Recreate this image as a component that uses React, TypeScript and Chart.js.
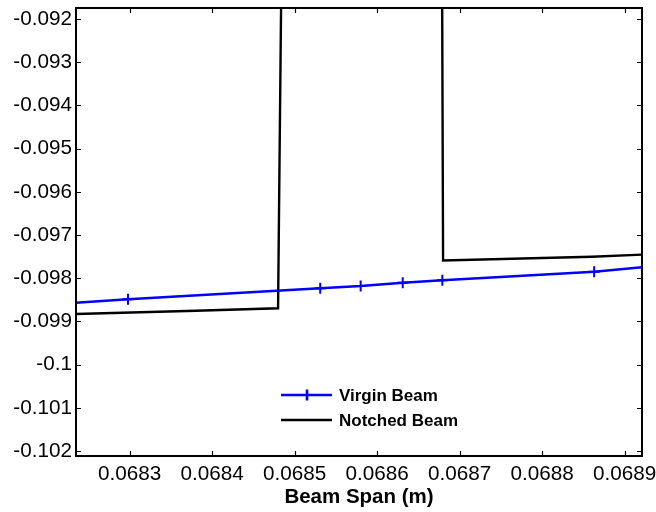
import React, { useEffect, useRef } from "react";
import { Chart, registerables } from "chart.js";

Chart.register(...registerables);

// Virgin beam (blue, "+" markers)
const virginX = [0.068235, 0.068298, 0.068531, 0.06858, 0.068631, 0.068679, 0.068863, 0.068921];
const virginY = [-0.098567, -0.098488, -0.098234, -0.098181, -0.098104, -0.098049, -0.09785, -0.097748];
const virginMarker = [false, true, true, true, true, true, true, false];

// Notched beam (black)
const notchedX = [0.068235, 0.06838, 0.0684799, 0.0684842, 0.0686786, 0.0686799, 0.06886, 0.068921];
const notchedY = [-0.098829, -0.098752, -0.098697, -0.0905, -0.0905, -0.09759, -0.097505, -0.097454];

const xMin = 0.068235;
const xMax = 0.068921;
const yMin = -0.102116;
const yMax = -0.091745;

const seriesNames = ["Virgin Beam", "Notched Beam"];
const xTitle = "Beam Span (m)";

const FONT = "'Liberation Sans', Arial, Helvetica, sans-serif";

const fmt = (v: number) => String(parseFloat(Number(v).toFixed(6)));

const framePlugin = {
  id: "frameTicks",
  afterDraw(chart: any) {
    const { ctx, chartArea } = chart;
    const { left, right, top, bottom } = chartArea;
    const xs = chart.scales.x;
    const ys = chart.scales.y;
    ctx.save();
    ctx.strokeStyle = "#000";
    ctx.lineWidth = 1.2;
    const tl = 5;
    ctx.beginPath();
    xs.ticks.forEach((t: any) => {
      const px = Math.round(xs.getPixelForValue(t.value)) + 0.5;
      ctx.moveTo(px, bottom);
      ctx.lineTo(px, bottom - tl);
      ctx.moveTo(px, top);
      ctx.lineTo(px, top + tl);
    });
    ys.ticks.forEach((t: any) => {
      const py = Math.round(ys.getPixelForValue(t.value)) + 0.5;
      ctx.moveTo(left, py);
      ctx.lineTo(left + tl, py);
      ctx.moveTo(right, py);
      ctx.lineTo(right - tl, py);
    });
    ctx.stroke();
    ctx.lineWidth = 2;
    ctx.strokeRect(left, top, right - left, bottom - top);

    // legend
    const lx0 = 281;
    const lx1 = 332;
    const rows = [
      { y: 395, color: "#0000ff", w: 2.6, marker: true, text: seriesNames[0] },
      { y: 420, color: "#000000", w: 2.4, marker: false, text: seriesNames[1] },
    ];
    rows.forEach((r) => {
      ctx.strokeStyle = r.color;
      ctx.lineWidth = r.w;
      ctx.beginPath();
      ctx.moveTo(lx0, r.y);
      ctx.lineTo(lx1, r.y);
      if (r.marker) {
        const mx = 307;
        ctx.moveTo(mx, r.y - 5.5);
        ctx.lineTo(mx, r.y + 5.5);
      }
      ctx.stroke();
      ctx.fillStyle = "#000";
      ctx.font = `bold 17px ${FONT}`;
      ctx.textAlign = "left";
      ctx.textBaseline = "middle";
      ctx.fillText(r.text, 339, r.y + 1);
    });
    ctx.restore();
  },
};

export default function App() {
  const ref = useRef<HTMLCanvasElement | null>(null);
  useEffect(() => {
    if (!ref.current) return;
    const chart = new Chart(ref.current, {
      type: "line",
      data: {
        datasets: [
          {
            label: seriesNames[0],
            data: virginX.map((x, i) => ({ x, y: virginY[i] })),
            borderColor: "#0000ff",
            backgroundColor: "#0000ff",
            borderWidth: 2.6,
            pointStyle: "cross",
            pointRadius: virginMarker.map((m) => (m ? 5.5 : 0)),
            pointBorderWidth: 2,
            pointBorderColor: "#0000ff",
            tension: 0,
            fill: false,
          },
          {
            label: seriesNames[1],
            data: notchedX.map((x, i) => ({ x, y: notchedY[i] })),
            borderColor: "#000000",
            backgroundColor: "#000000",
            borderWidth: 2.4,
            pointRadius: 0,
            tension: 0,
            fill: false,
          },
        ],
      },
      options: {
        responsive: false,
        animation: false,
        devicePixelRatio: 1,
        layout: { padding: { top: 8, right: 14, left: 0, bottom: 0 } },
        plugins: {
          legend: { display: false },
          tooltip: { enabled: false },
          title: { display: false },
        },
        scales: {
          x: {
            type: "linear",
            min: xMin,
            max: xMax,
            grid: { display: false, drawTicks: false },
            border: { display: false },
            afterFit: (s: any) => {
              s.height = 56;
              s.paddingLeft = 0;
              s.paddingRight = 0;
            },
            ticks: {
              stepSize: 0.0001,
              includeBounds: false,
              autoSkip: false,
              maxRotation: 0,
              padding: 6,
              color: "#000",
              font: { family: FONT, size: 20.7 },
              callback: (v: any) => fmt(v),
            },
            title: {
              display: true,
              text: xTitle,
              color: "#000",
              font: { family: FONT, size: 20.5, weight: "bold" },
              padding: { top: 0, bottom: 2 },
            },
          },
          y: {
            type: "linear",
            min: yMin,
            max: yMax,
            grid: { display: false, drawTicks: false },
            border: { display: false },
            afterFit: (s: any) => {
              s.width = 76;
              s.paddingTop = 0;
              s.paddingBottom = 0;
            },
            ticks: {
              stepSize: 0.001,
              includeBounds: false,
              autoSkip: false,
              padding: 4,
              color: "#000",
              font: { family: FONT, size: 20.7 },
              callback: (v: any) => fmt(v),
            },
          },
        },
      },
      plugins: [framePlugin],
    } as any);
    return () => chart.destroy();
  }, []);
  return (
    <div style={{ position: "absolute", left: 0, top: 0, width: 656, height: 512, background: "#fff" }}>
      <canvas ref={ref} width={656} height={512} style={{ display: "block" }} />
    </div>
  );
}
